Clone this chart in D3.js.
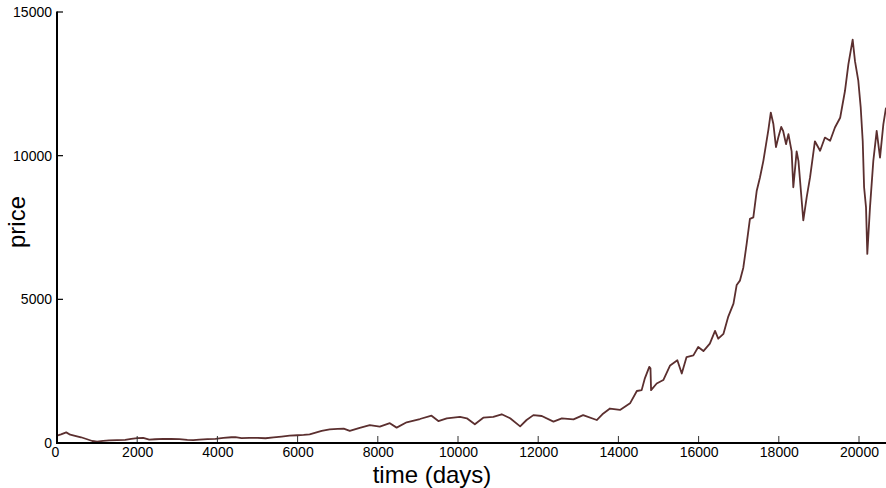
<!DOCTYPE html>
<html>
<head>
<meta charset="utf-8">
<script src="https://cdn.jsdelivr.net/npm/d3@7"></script>
<style>
  html, body { margin: 0; padding: 0; background: #ffffff; }
  svg { display: block; }
  text { font-family: Arial, "Liberation Sans", Helvetica, sans-serif; fill: #000; }
</style>
</head>
<body>
<svg id="chart" width="886" height="488"></svg>
<script>
// ---- data ----
const days = [0,100,230,330,450,600,750,880,1000,1150,1300,1500,1700,1850,2000,2150,2300,2450,2650,2850,3050,3250,3400,3550,3750,3950,4150,4350,4450,4600,4800,5000,5200,5400,5600,5800,6000,6150,6300,6450,6600,6800,7000,7150,7300,7550,7800,8050,8300,8470,8720,9050,9340,9510,9720,10050,10220,10420,10630,10880,11090,11300,11550,11710,11880,12090,12380,12590,12880,13120,13460,13600,13790,14040,14290,14460,14580,14660,14770,14800,14815,14955,15120,15290,15470,15580,15700,15870,15990,16120,16280,16410,16490,16620,16740,16870,16950,17030,17115,17200,17280,17365,17450,17530,17615,17740,17800,17865,17930,17990,18060,18110,18180,18240,18320,18362,18445,18490,18570,18611,18695,18780,18900,19030,19150,19280,19400,19530,19650,19735,19842,19900,19983,20043,20093,20127,20175,20207,20274,20357,20441,20524,20607,20673];
const prices = [260,300,370,290,250,200,130,70,45,75,90,100,110,140,170,180,120,130,145,140,135,110,100,120,135,145,175,200,205,170,175,180,165,195,225,255,270,280,300,360,420,475,490,500,420,530,625,570,690,535,720,835,950,765,860,910,860,650,880,910,1000,860,580,800,970,940,745,860,820,970,800,1000,1200,1150,1380,1810,1840,2250,2650,2600,1840,2070,2190,2700,2880,2420,2990,3050,3340,3200,3460,3900,3630,3800,4400,4850,5500,5650,6100,6950,7800,7850,8780,9240,9820,10900,11500,11100,10300,10650,11000,10850,10400,10750,10150,8900,10150,9820,8450,7750,8550,9250,10500,10170,10630,10520,10980,11320,12250,13180,14040,13290,12600,11670,10500,8900,8200,6580,8200,9820,10860,9930,11090,11670];
const xTicks = [0,2000,4000,6000,8000,10000,12000,14000,16000,18000,20000];
const yTicks = [0,5000,10000,15000];
const xTitle = "time (days)";
const yTitle = "price";

const svg = d3.select("#chart");
const x = d3.scaleLinear().domain([0, 20000]).range([57, 859]);
const y = d3.scaleLinear().domain([0, 15000]).range([443, 12]);
const xEnd = 886;

// data line
const pts = days.map((d, i) => [d, prices[i]]);
const line = d3.line().x(d => x(d[0])).y(d => y(d[1]));
svg.append("path")
  .datum(pts)
  .attr("fill", "none")
  .attr("stroke", "#5b2f2f")
  .attr("stroke-width", 1.8)
  .attr("stroke-linejoin", "round")
  .attr("d", line);

// x axis
const xAxis = d3.axisBottom(x).tickValues(xTicks).tickSize(0).tickPadding(0).tickFormat(d3.format("d"));
const gx = svg.append("g").attr("transform", "translate(0,443)").call(xAxis);
gx.select(".domain").remove();
gx.selectAll("text").attr("font-size", 14).attr("y", 0).attr("dy", 14)
  .style("font-family", "Arial, 'Liberation Sans', sans-serif");
gx.selectAll(".tick").filter(d => d === 0).select("text").attr("dx", -2);
// inward tick marks
svg.append("g").selectAll("line").data(xTicks.filter(d => d !== 0)).join("line")
  .attr("x1", d => x(d)).attr("x2", d => x(d))
  .attr("y1", 443).attr("y2", 436)
  .attr("stroke", "#333").attr("stroke-width", 1);
svg.append("line").attr("x1", 56).attr("x2", xEnd).attr("y1", 443).attr("y2", 443)
  .attr("stroke", "#000").attr("stroke-width", 2);

// y axis
const yAxis = d3.axisLeft(y).tickValues(yTicks).tickSize(0).tickPadding(5).tickFormat(d3.format("d"));
const gy = svg.append("g").attr("transform", "translate(57,0)").call(yAxis);
gy.select(".domain").remove();
gy.selectAll("text").attr("font-size", 14)
  .style("font-family", "Arial, 'Liberation Sans', sans-serif");
svg.append("g").selectAll("line").data(yTicks.filter(d => d !== 0)).join("line")
  .attr("x1", 57).attr("x2", 63)
  .attr("y1", d => y(d)).attr("y2", d => y(d))
  .attr("stroke", "#000").attr("stroke-width", 1.2);
svg.append("line").attr("x1", 57).attr("x2", 57).attr("y1", y(15000) - 0.5).attr("y2", 444)
  .attr("stroke", "#000").attr("stroke-width", 2);

// titles
svg.append("text").attr("x", 432).attr("y", 483).attr("text-anchor", "middle")
  .attr("font-size", 24).text(xTitle);
svg.append("text").attr("transform", "translate(25,222) rotate(-90)").attr("text-anchor", "middle")
  .attr("font-size", 24).text(yTitle);
</script>
</body>
</html>
